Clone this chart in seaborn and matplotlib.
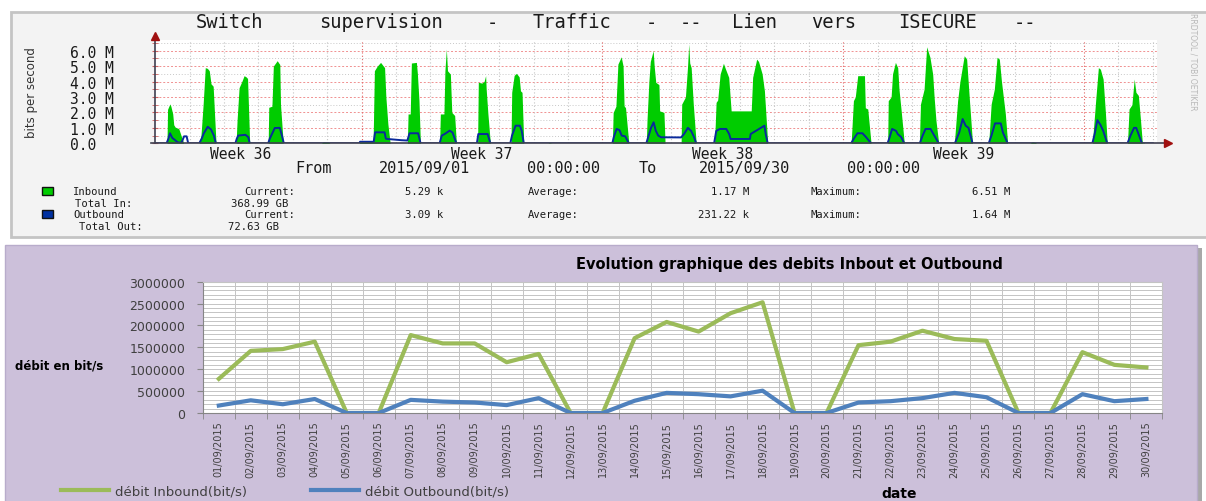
import numpy as np
import pandas as pd
import seaborn as sns
import matplotlib.pyplot as plt
from matplotlib.patches import Rectangle
from matplotlib.lines import Line2D

W, H = 1206, 502

# ---- top graph (rrdtool export): hours since 2015/09/01 00:00, Mbit/s
in_hours = [0, 8.3, 8.7, 10.3, 11.0, 12.3, 13.0, 14.0, 16.5, 18.5, 20.0,
            30.8, 32.0, 33.5, 35.0, 36.5, 37.8, 39.0, 40.5, 42.5,
            56.5, 57.2, 58.6, 60.5, 62.1, 63.5, 64.5, 66.0,
            78.9, 79.3, 81.5, 82.5, 85.2, 87.0, 87.5, 89.4,
            116.0, 117.5, 121.0, 122.0,
            142.5, 143.0, 152.1, 153.0, 155.0, 157.3, 160.1, 161.0, 162.4, 164.0,
            176.0, 176.5, 178.0, 178.8, 182.3, 183.0, 184.1, 185.1,
            198.5, 199.0, 201.5, 202.2, 203.2, 204.0, 206.0, 207.0, 209.0, 210.2,
            225.0, 225.5, 228.0, 229.5, 230.6, 231.0, 232.2, 233.9,
            248.3, 248.8, 250.5, 252.1, 254.0, 254.9, 256.0, 257.2,
            274.0, 275.0, 277.0,
            319.0, 319.6, 321.5, 322.9, 325.2, 326.5, 327.2, 328.2, 330.5,
            342.7, 343.2, 344.5, 345.5, 347.5, 348.2, 349.3, 351.5, 352.0, 355.0, 355.8,
            367.0, 367.4, 370.0, 371.5, 372.3, 373.0, 374.0, 375.5, 377.5,
            390.3, 391.4, 392.5, 394.2, 396.5, 398.0, 400.2, 401.9,
            415.9, 416.9, 419.7, 421.0, 423.5, 425.1, 427.4,
            485.6, 487.2, 488.5, 490.2, 494.9, 495.5, 497.2, 499.5,
            511.1, 511.5, 513.5, 514.5, 516.5, 518.1, 519.0, 520.4, 522.7,
            533.2, 534.0, 536.5, 538.3, 540.6, 542.5, 543.5, 544.8, 546.7,
            557.6, 559.9, 561.5, 564.5, 566.2, 568.0, 570.3,
            581.6, 583.3, 585.5, 587.4, 589.0, 590.5, 593.2, 594.8,
            610.5, 612.0, 614.0, 615.0,
            653.9, 656.3, 658.1, 659.5, 661.4, 663.0, 664.3,
            678.4, 679.5, 681.5, 683.1, 684.3, 686.0, 687.5, 688.8, 689.5, 690.5,
            696.0]
in_mbps = [0, 0, 2.2, 2.55, 2.4, 1.9, 1.2, 1.05, 0.95, 0.4, 0,
           0, 0.5, 2.5, 4.9, 4.85, 4.7, 3.85, 3.7, 0,
           0, 1.5, 3.6, 4.0, 4.38, 4.3, 4.2, 0,
           0, 2.33, 2.4, 5.0, 5.35, 5.1, 2.5, 0,
           0, 0.1, 0.07, 0,
           0, 0.1, 0.12, 4.7, 5.0, 5.24, 4.9, 3.0, 1.25, 0,
           0, 1.9, 1.9, 5.2, 5.24, 4.5, 2.76, 0,
           0, 1.9, 1.9, 4.7, 6.1, 4.7, 4.48, 2.0, 1.8, 0,
           0, 3.95, 3.9, 4.0, 4.38, 3.5, 1.9, 0,
           0, 3.3, 4.4, 4.53, 4.3, 3.4, 3.3, 0,
           0, 0.04, 0,
           0, 2.0, 2.4, 5.13, 5.6, 5.0, 2.43, 2.3, 0,
           0, 1.5, 4.0, 5.3, 6.0, 5.0, 3.95, 3.8, 2.1, 2.0, 0,
           0, 2.54, 3.0, 5.0, 6.43, 5.2, 4.9, 2.5, 0,
           0, 2.65, 2.8, 4.48, 5.18, 4.8, 4.27, 2.1,
           2.1, 4.27, 5.45, 5.3, 4.5, 3.4, 0,
           0, 2.76, 3.0, 4.38, 4.38, 2.3, 2.22, 0,
           0, 2.76, 3.0, 4.5, 5.24, 4.9, 3.5, 2.22, 0,
           0, 2.54, 3.5, 6.25, 5.57, 4.48, 3.0, 1.46, 0,
           0, 2.76, 4.0, 5.67, 5.45, 2.98, 0,
           0, 2.54, 3.5, 5.57, 5.45, 4.0, 1.9, 0,
           0, 0.1, 0.06, 0,
           0, 2.87, 4.9, 4.8, 4.16, 2.0, 0,
           0, 2.22, 2.5, 4.16, 3.3, 3.1, 1.5, 0, 0.05, 0,
           0]

out_hours = [0, 8.0, 9.3, 10.4, 12.0, 14.0, 16.0, 18.5, 20.2, 22.0, 23.1,
             30.8, 32.5, 34.0, 36.7, 39.0, 41.0, 42.4,
             56.0, 57.0, 58.0, 63.0, 65.0, 66.0,
             78.9, 80.0, 82.0, 83.5, 87.0, 88.5, 89.8,
             142.5, 143.0, 152.5, 153.5, 160.1, 161.0, 162.0, 172.0, 176.0,
             177.5, 183.5, 185.2,
             198.5, 200.0, 202.0, 205.5, 207.5, 210.2,
             224.5, 225.5, 232.0, 233.9,
             247.8, 249.0, 251.5, 254.5, 255.8, 257.2,
             319.0, 320.0, 322.0, 324.0, 325.5, 328.0, 330.5,
             342.7, 344.0, 346.0, 347.8, 349.3, 351.0, 353.0, 367.0,
             369.0, 371.7, 374.0, 376.0, 377.5,
             390.0, 391.5, 394.0, 398.5, 400.5, 401.5,
             415.0, 415.5, 425.1, 426.0, 427.4,
             485.6, 487.5, 490.0, 493.5, 496.0, 499.5,
             511.0, 512.5, 514.2, 517.0, 518.1, 520.5, 522.7,
             533.5, 535.5, 537.5, 541.0, 543.0, 546.7,
             558.0, 561.0, 563.4, 565.5, 567.5, 570.3,
             581.6, 583.5, 586.0, 590.0, 591.5, 594.8,
             653.9, 655.5, 657.4, 659.5, 661.5, 664.3,
             678.4, 680.5, 683.0, 684.5, 686.5, 688.5,
             696.0]
out_mbps = [0, 0, 0.3, 0.65, 0.35, 0.2, 0.05, 0.05, 0.45, 0.45, 0,
            0, 0.3, 0.65, 1.07, 0.9, 0.5, 0,
            0, 0.3, 0.5, 0.55, 0.4, 0,
            0, 0.3, 0.7, 0.99, 1.0, 0.5, 0,
            0, 0.1, 0.1, 0.71, 0.71, 0.3, 0.28, 0.2, 0.18,
            0.65, 0.65, 0,
            0, 0.5, 0.6, 0.82, 0.7, 0,
            0, 0.6, 0.6, 0,
            0, 0.5, 1.14, 1.14, 0.8, 0,
            0, 0.4, 0.93, 0.85, 0.5, 0.45, 0,
            0, 0.4, 1.0, 1.36, 0.82, 0.5, 0.39, 0.38,
            0.6, 1.0, 0.8, 0.4, 0,
            0, 0.8, 0.93, 0.93, 0.6, 0.28,
            0.28, 0.6, 1.14, 0.6, 0,
            0, 0.3, 0.65, 0.65, 0.4, 0,
            0, 0.4, 0.93, 0.8, 0.6, 0.4, 0,
            0, 0.5, 0.93, 0.93, 0.6, 0,
            0, 0.7, 1.57, 1.14, 1.0, 0,
            0, 0.5, 1.29, 1.29, 0.7, 0,
            0, 0.6, 1.5, 1.2, 0.8, 0,
            0, 0.5, 1.0, 1.0, 0.5, 0,
            0]

y_tick_labels = ['0.0', '1.0 M', '2.0 M', '3.0 M', '4.0 M', '5.0 M', '6.0 M']
week_labels = ['Week 36', 'Week 37', 'Week 38', 'Week 39']
week_label_hours = [60, 228, 396, 564]
top_title = 'Switch supervision - Traffic - -- Lien vers ISECURE --'
period = 'From 2015/09/01 00:00:00 To 2015/09/30 00:00:00'
in_stats = ['5.29 k', '1.17 M', '6.51 M']
out_stats = ['3.09 k', '231.22 k', '1.64 M']
totals = ['368.99 GB', '72.63 GB']

# ---- bottom chart: daily averages in bit/s
dates = ['%02d/09/2015' % d for d in range(1, 31)]
inbound = [780000, 1420000, 1460000, 1630000, 0, 0, 1780000, 1590000, 1590000, 1160000,
           1350000, 0, 0, 1710000, 2080000, 1860000, 2280000, 2530000, 0, 0,
           1550000, 1630000, 1880000, 1690000, 1650000, 0, 0, 1390000, 1100000, 1040000]
outbound = [170000, 290000, 200000, 320000, 0, 0, 300000, 260000, 240000, 180000,
            340000, 0, 0, 280000, 460000, 430000, 380000, 510000, 0, 0,
            240000, 270000, 340000, 460000, 360000, 0, 0, 430000, 270000, 320000]
series_names = ['débit Inbound(bit/s)', 'débit Outbound(bit/s)']

MONO = 'DejaVu Sans Mono'
fig = plt.figure(figsize=(W / 100, H / 100), dpi=100)
plt.rcParams['font.family'] = ['DejaVu Sans']


def px_axes(x0, y0, x1, y1):
    return fig.add_axes([x0 / W, 1 - y1 / H, (x1 - x0) / W, (y1 - y0) / H])


def ftext(x, y, s, **kw):
    return fig.text(x / W, 1 - y / H, s, **kw)


def fbox(x0, y0, x1, y1, **kw):
    fig.add_artist(Rectangle((x0 / W, 1 - y1 / H), (x1 - x0) / W, (y1 - y0) / H,
                             transform=fig.transFigure, **kw))


def mono_words(s, x0, pitch, y, size):
    # rrdtool text is a stretched monospace grid: put every word on its cell
    i = 0
    for word in s.split(' '):
        if word:
            ftext(x0 + pitch * (i + len(word) / 2), y, word, family=MONO,
                  fontsize=size, ha='center', va='center', color='#1a1a1a')
        i += len(word) + 1


# panels
fbox(11, 12.5, 1212, 238, facecolor='#f3f3f3', edgecolor='#c4c4c4', lw=2, zorder=-5)
fbox(8, 249, 1202, 515, facecolor='#a8a8a8', lw=0, zorder=-6)
fbox(5, 246, 1197, 515, facecolor='#ccc0da', edgecolor='#b8accb', lw=1, zorder=-5)

# ---------------- top graph
ax1 = px_axes(155.1, 41, 1157, 144.3)
ax1.set_facecolor('white')
ax1.fill_between(in_hours, in_mbps, color='#00cc00', lw=0, zorder=2)
sns.lineplot(x=out_hours, y=out_mbps, ax=ax1, color='#0a2a9c', lw=1.4,
             estimator=None, sort=False, zorder=3)
ax1.set_xlim(0, 699)
ax1.set_ylim(0, 6.69)

for h in range(24, 697, 24):
    monday = h % 168 == 144
    ax1.axvline(h, color='#e06060' if monday else '#c4c4c4', ls=(0, (1, 2)), lw=0.8, zorder=1)
ax1.set_yticks(range(7))
ax1.set_yticks(np.arange(0.5, 6.6, 1.0), minor=True)
ax1.yaxis.grid(True, which='major', color='#f09090', ls=(0, (2, 2)), lw=0.7, zorder=1)
ax1.yaxis.grid(True, which='minor', color='#c8c8c8', ls=(0, (1, 2)), lw=0.7, zorder=1)
ax1.set_axisbelow(True)
ax1.set_yticklabels(y_tick_labels, family=MONO, fontsize=10.5, color='#1a1a1a')
for lab in ax1.get_yticklabels():
    lab.set_ha('left')
ax1.tick_params(axis='y', which='both', direction='inout', length=4, color='#d06060', pad=59)
ax1.set_xticks(week_label_hours)
ax1.set_xticklabels(week_labels, family=MONO, fontsize=10.5, color='#1a1a1a')
ax1.tick_params(axis='x', length=0, pad=2.2)
for sp in ax1.spines.values():
    sp.set_visible(False)
ax1.plot([-0.004, 1.008], [0, 0], transform=ax1.transAxes, color='#404050', lw=1.2, clip_on=False, zorder=4)
ax1.plot([1.011], [0], marker='>', ms=6, color='#a01010', transform=ax1.transAxes, clip_on=False, zorder=5)
ax1.plot([0, 0], [0, 1.02], transform=ax1.transAxes, color='#404050', lw=1.2, clip_on=False, zorder=4)
ax1.plot([0], [1.04], marker='^', ms=6, color='#a01010', transform=ax1.transAxes, clip_on=False, zorder=5)
ax1.set_xlabel('')
ax1.set_ylabel('')

mono_words(top_title, 182, 15.9, 23, 13.5)
mono_words(period, 286, 13.9, 168.3, 11)
ftext(31.7, 93, 'bits per second', rotation=90, ha='center', va='center', fontsize=8.5, color='#333333')
ftext(1193, 62, 'RRDTOOL / TOBI OETIKER', rotation=270, ha='center', va='center',
      fontsize=5.5, color='#b8b8b8')

# rrdtool legend block
fbox(41.7, 188.3, 53.3, 196.3, facecolor='#00cc00', edgecolor='#111111', lw=1)
fbox(41.7, 211.0, 53.3, 219.0, facecolor='#0030a0', edgecolor='#111111', lw=1)
lsize = 7.6
rows = [(192.3, ['Inbound', 'Current:', in_stats[0], 'Average:', in_stats[1], 'Maximum:', in_stats[2]]),
        (215.0, ['Outbound', 'Current:', out_stats[0], 'Average:', out_stats[1], 'Maximum:', out_stats[2]])]
cols = [None, 270, 424, 553, None, 836, 991]
for y, words in rows:
    ftext(73.3, y, words[0], family=MONO, fontsize=lsize, va='center', color='#1a1a1a')
    for k in (1, 2, 3, 5, 6):
        ftext(cols[k], y, words[k], family=MONO, fontsize=lsize, ha='center', va='center', color='#1a1a1a')
    ftext(749, y, words[4], family=MONO, fontsize=lsize, ha='right', va='center', color='#1a1a1a')
ftext(104, 203.6, 'Total In:', family=MONO, fontsize=lsize, ha='center', va='center', color='#1a1a1a')
ftext(260, 203.6, totals[0], family=MONO, fontsize=lsize, ha='center', va='center', color='#1a1a1a')
ftext(111, 227.0, 'Total Out:', family=MONO, fontsize=lsize, ha='center', va='center', color='#1a1a1a')
ftext(253, 227.0, totals[1], family=MONO, fontsize=lsize, ha='center', va='center', color='#1a1a1a')

# ---------------- bottom chart
df = pd.DataFrame({'day': list(range(30)) * 2,
                   'debit': inbound + outbound,
                   'serie': [series_names[0]] * 30 + [series_names[1]] * 30})
colors = ['#9bbb59', '#4f81bd']
ax2 = px_axes(202.8, 282.7, 1162.4, 414)
ax2.set_facecolor('white')
sns.lineplot(data=df, x='day', y='debit', hue='serie', palette=colors, lw=3,
             estimator=None, legend=False, ax=ax2, zorder=3)
ax2.set_xlim(-0.5, 29.5)
ax2.set_ylim(0, 3000000)
ax2.set_xticks(range(30))
ax2.set_xticklabels(dates, rotation=90, fontsize=7, color='#404040')
ax2.set_xticks(np.arange(-0.5, 30, 1), minor=True)
ax2.tick_params(axis='x', which='major', length=0, pad=5.5)
ax2.tick_params(axis='x', which='minor', length=4, color='#868686', direction='out')
ax2.set_yticks(range(0, 3000001, 500000))
ax2.set_yticklabels([str(v) for v in range(0, 3000001, 500000)])
ax2.set_yticks(range(0, 3000001, 100000), minor=True)
ax2.tick_params(axis='y', which='major', length=4, color='#868686', labelsize=9,
                labelcolor='#404040', pad=8.5)
ax2.tick_params(axis='y', which='minor', length=0)
ax2.yaxis.grid(True, which='both', color='#c4c4c4', lw=0.7)
ax2.xaxis.grid(True, which='minor', color='#c4c4c4', lw=0.7)
ax2.xaxis.grid(False, which='major')
ax2.set_axisbelow(True)
for side in ('left', 'bottom'):
    ax2.spines[side].set_color('#868686')
for side in ('top', 'right'):
    ax2.spines[side].set_color('#c4c4c4')
ax2.set_xlabel('')
ax2.set_ylabel('')

ftext(789.5, 264, 'Evolution graphique des debits Inbout et Outbound', ha='center', va='center',
      fontsize=10.5, fontweight='bold', color='#000000')
ftext(15.3, 366, 'débit en bit/s', ha='left', va='center', fontsize=8.5, fontweight='bold')
ftext(899.5, 494, 'date', ha='center', va='center', fontsize=10, fontweight='bold')

handles = [Line2D([], [], color=c, lw=3) for c in colors]
fig.legend(handles, series_names, loc='center left', bbox_to_anchor=(61 / W, 1 - 492.3 / H),
           ncol=2, frameon=False, fontsize=9.5, handlelength=3.64, handletextpad=0.44,
           columnspacing=4.85, borderpad=0, borderaxespad=0, labelcolor='#404040')

fig.savefig('out.png', dpi=100)
